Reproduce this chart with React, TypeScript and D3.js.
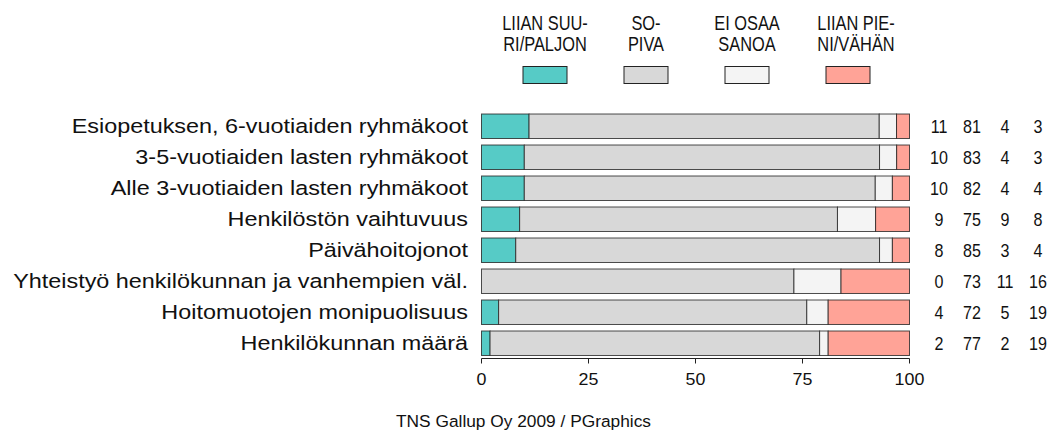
import React from "react";
import * as d3 from "d3";

// survey shares (%) per question
const categories = [
  "Esiopetuksen, 6-vuotiaiden ryhmäkoot",
  "3-5-vuotiaiden lasten ryhmäkoot",
  "Alle 3-vuotiaiden lasten ryhmäkoot",
  "Henkilöstön vaihtuvuus",
  "Päivähoitojonot",
  "Yhteistyö henkilökunnan ja vanhempien väl.",
  "Hoitomuotojen monipuolisuus",
  "Henkilökunnan määrä",
];
const liianSuuri = [11, 10, 10, 9, 8, 0, 4, 2];
const sopiva = [81, 83, 82, 75, 85, 73, 72, 77];
const eiOsaa = [4, 4, 4, 9, 3, 11, 5, 2];
const liianPieni = [3, 3, 4, 8, 4, 16, 19, 19];

const seriesLabels = [
  ["LIIAN SUU-", "RI/PALJON"],
  ["SO-", "PIVA"],
  ["EI OSAA", "SANOA"],
  ["LIIAN PIE-", "NI/VÄHÄN"],
];
const colors = ["#56cbc6", "#d8d8d8", "#f4f4f4", "#ffa397"];
const ticks = [0, 25, 50, 75, 100];

const font = "Liberation Sans, Arial, Helvetica, sans-serif";

// text stretched horizontally like the original render
function Txt({ x, y, size, sx = 1, anchor = "middle", children }: any) {
  return (
    <text
      transform={`translate(${x},${y}) scale(${sx},1)`}
      textAnchor={anchor}
      fontSize={size}
      fill="#111"
    >
      {children}
    </text>
  );
}

export default function App() {
  const width = 1055, height = 435;
  const x = d3.scaleLinear().domain([0, 100]).range([481.5, 909.5]);
  const y = d3.scaleBand().domain(categories).range([107.5, 362]).padding(0.21);
  const series = [liianSuuri, sopiva, eiOsaa, liianPieni];

  // stacked segments, scaled to 100 across each row
  const rows = categories.map((cat, i) => {
    const vals = series.map((s) => s[i]);
    const total = d3.sum(vals);
    let acc = 0;
    const segs = vals.map((v, k) => {
      const x0 = (acc / total) * 100;
      acc += v;
      return { k, x0, x1: (acc / total) * 100 };
    });
    return { cat, vals, segs };
  });

  const legendX = d3.scaleLinear().domain([0, 3]).range([545, 848]);
  const numX = d3.scaleLinear().domain([0, 3]).range([939, 1038]);
  const axisY = 358.5;

  return (
    <svg width={width} height={height} style={{ position: "absolute", left: 0, top: 0 }} fontFamily={font}>
      <rect width={width} height={height} fill="white" />
      {/* legend */}
      {seriesLabels.map((lines, k) => (
        <g key={k}>
          {lines.map((t, j) => (
            <Txt key={j} x={legendX(k) + (k === 3 ? 8 : 0)} y={30 + j * 21} size={20} sx={0.82}>
              {t}
            </Txt>
          ))}
          <rect x={legendX(k) - 22} y={66.5} width={44} height={17} fill={colors[k]} stroke="#222" strokeWidth={1} />
        </g>
      ))}
      {/* bars */}
      {rows.map((r) => {
        const cy = y(r.cat)! + y.bandwidth() / 2;
        return (
          <g key={r.cat}>
            <Txt x={468} y={cy + 6.5} size={19.5} sx={1.2} anchor="end">
              {r.cat}
            </Txt>
            {r.segs.map((s) => (
              <rect
                key={s.k}
                x={x(s.x0)}
                y={y(r.cat)}
                width={x(s.x1) - x(s.x0)}
                height={y.bandwidth()}
                fill={colors[s.k]}
                stroke="#222"
                strokeOpacity={0.8}
                strokeWidth={1}
              />
            ))}
            {r.vals.map((v, k) => (
              <Txt key={k} x={numX(k)} y={cy + 6.5} size={17.5} sx={0.92}>
                {v}
              </Txt>
            ))}
          </g>
        );
      })}
      {/* axis */}
      <line x1={x(0)} x2={x(100)} y1={axisY} y2={axisY} stroke="#222" />
      {ticks.map((t) => (
        <g key={t}>
          <line x1={x(t)} x2={x(t)} y1={axisY} y2={axisY + 5} stroke="#222" />
          <Txt x={x(t)} y={385} size={17} sx={1.05}>
            {t}
          </Txt>
        </g>
      ))}
      <Txt x={523.5} y={427} size={16.5} sx={1.05}>
        TNS Gallup Oy 2009 / PGraphics
      </Txt>
    </svg>
  );
}
